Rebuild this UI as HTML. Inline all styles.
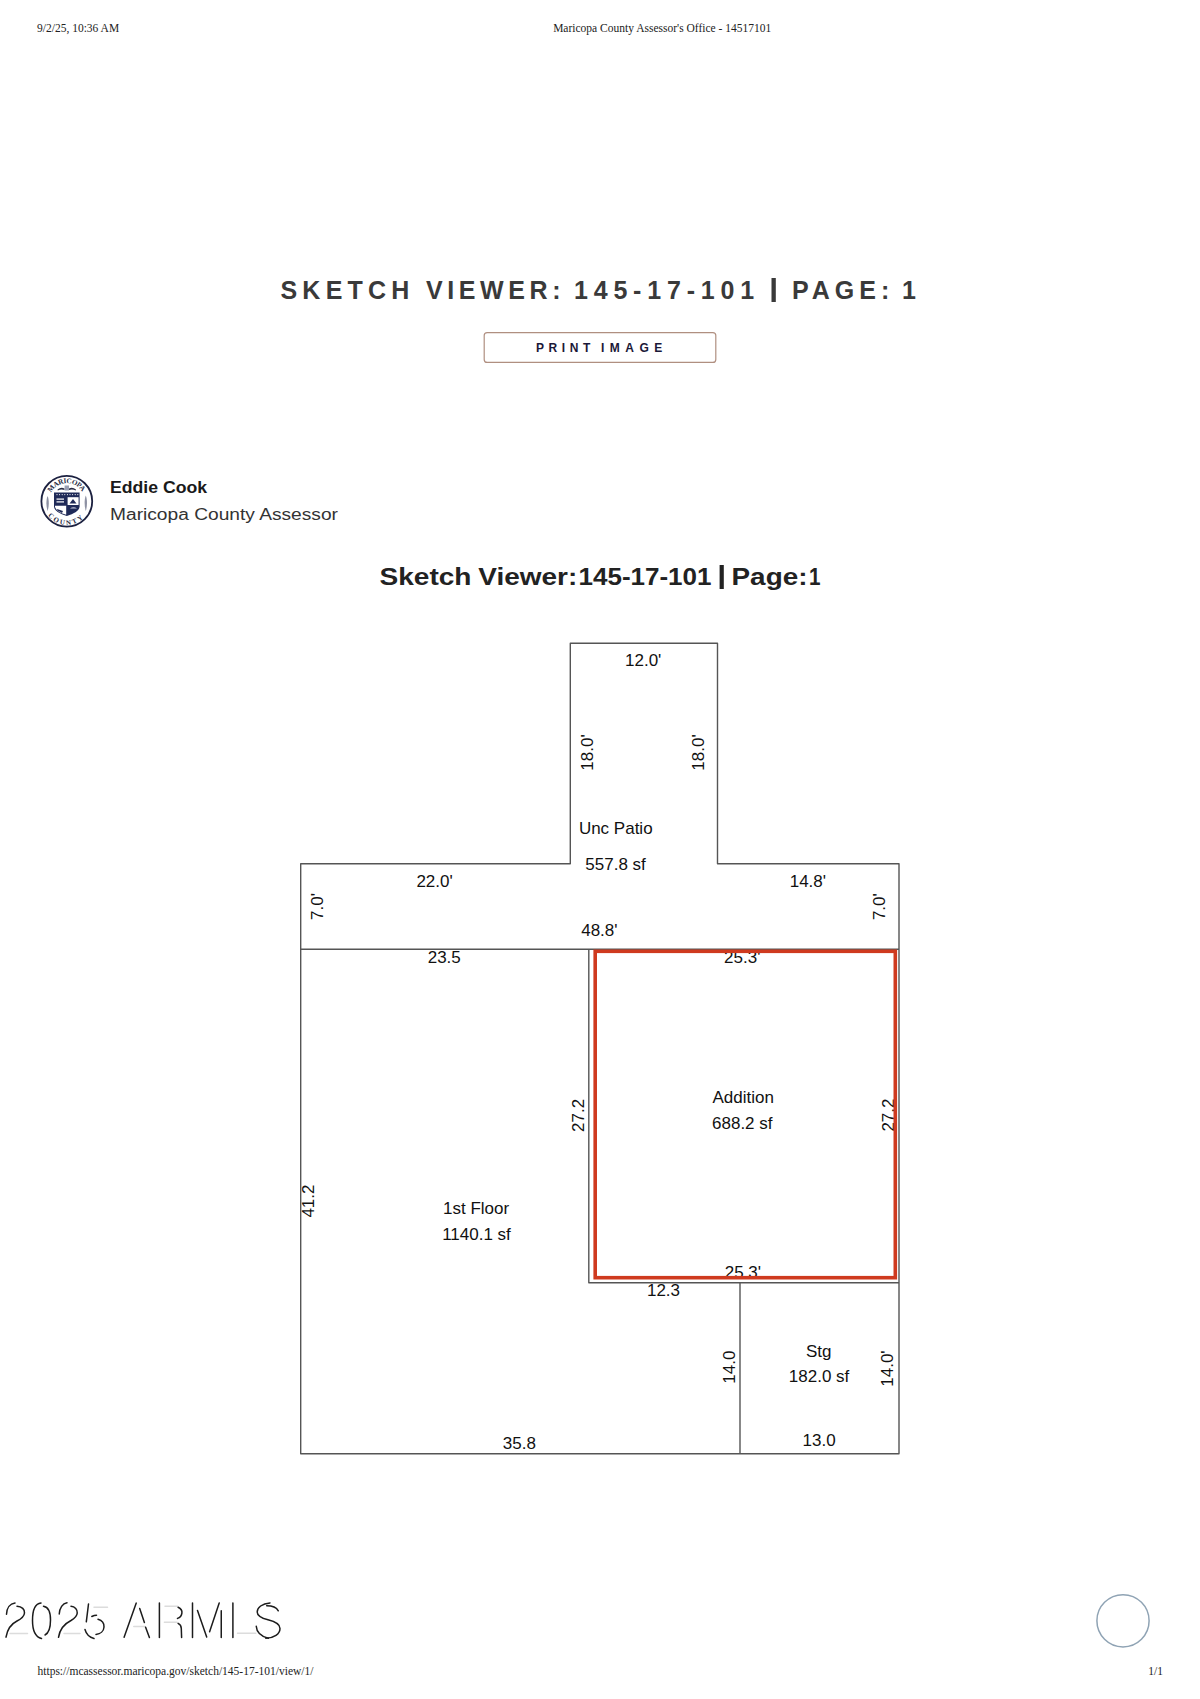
<!DOCTYPE html>
<html>
<head>
<meta charset="utf-8">
<style>
html,body{margin:0;padding:0;background:#fff;}
body{width:1200px;height:1699px;overflow:hidden;position:relative;}
svg{position:absolute;left:0;top:0;}
.serif{font-family:"Liberation Serif",serif;}
.sans{font-family:"Liberation Sans",sans-serif;}
</style>
</head>
<body>
<svg width="1200" height="1699" viewBox="0 0 1200 1699">
  <!-- header -->
  <text class="serif" x="37" y="31.7" font-size="11.5" fill="#222">9/2/25, 10:36 AM</text>
  <text class="serif" x="662.2" y="31.7" font-size="11.5" fill="#222" text-anchor="middle">Maricopa County Assessor's Office - 14517101</text>

  <!-- big title -->
  <g class="sans" font-size="25" font-weight="bold" fill="#3a3a3a" letter-spacing="5">
    <text x="280.5" y="298.7" letter-spacing="5.2">SKETCH</text>
    <text x="426" y="298.7" letter-spacing="4.6">VIEWER:</text>
    <text x="574" y="298.7" letter-spacing="5.8">145-17-101</text>
    <rect x="771.5" y="278" width="4.3" height="24" fill="#3a3a3a"/>
    <text x="792" y="298.7">PAGE:</text>
    <text x="901.9" y="298.7">1</text>
  </g>

  <!-- button -->
  <rect x="484.2" y="332.6" width="231.6" height="29.8" rx="3" ry="3" fill="#fff" stroke="#b08f80" stroke-width="1.2"/>
  <g class="sans" font-size="12" font-weight="bold" fill="#1b1838" letter-spacing="4.6">
    <text x="536" y="351.5">PRINT</text>
    <text x="601" y="351.5" letter-spacing="5.5">IMAGE</text>
  </g>

  <!-- seal -->
  <g id="seal">
    <defs>
      <path id="sealTop" d="M48.8 501.2 A18 18 0 0 1 84.76 499.94"/>
      <path id="sealBot" d="M43.3 500.79 A23.5 23.5 0 0 0 90.27 502.43"/>
    </defs>
    <circle cx="66.8" cy="501.2" r="25.4" fill="#fff" stroke="#1c2140" stroke-width="1.8"/>
    <text font-family="Liberation Serif, serif" font-size="7.2" font-weight="bold" fill="#2a2d45" letter-spacing="-0.3"><textPath href="#sealTop" startOffset="50%" text-anchor="middle">MARICOPA</textPath></text>
    <text font-family="Liberation Serif, serif" font-size="7" font-weight="bold" fill="#2a2d45" letter-spacing="1.9"><textPath href="#sealBot" startOffset="50%" text-anchor="middle">COUNTY</textPath></text>
    <!-- crest -->
    <path d="M57.5 489.5 Q61 486.5 64.5 488.5 L64.5 490 Q61 488.8 57.8 490.5 Z M76 489.5 Q72.5 486.5 69 488.5 L69 490 Q72.5 488.8 75.7 490.5 Z" fill="#2a2d45"/>
    <rect x="64.6" y="485.5" width="4.4" height="5" fill="#9aa0b4"/>
    <!-- side plants -->
    <path d="M47.6 496 C46 500 46 506 47.6 511 C49.2 506 49.2 500 47.6 496 Z" fill="#8d91a3"/>
    <path d="M85.8 495.5 C84.2 500 84.2 506 85.8 511 C87.4 506 87.4 500 85.8 495.5 Z" fill="#8d91a3"/>
    <!-- shield -->
    <path d="M54 492.4 H79.6 V506.5 Q79.3 512.5 66.8 516 Q54.3 512.5 54 506.5 Z" fill="#1f2a58"/>
    <g fill="#fff">
      <circle cx="57" cy="494.6" r="0.55"/><circle cx="59.6" cy="494.6" r="0.55"/><circle cx="62.2" cy="494.6" r="0.55"/><circle cx="64.8" cy="494.6" r="0.55"/><circle cx="67.4" cy="494.6" r="0.55"/><circle cx="70" cy="494.6" r="0.55"/><circle cx="72.6" cy="494.6" r="0.55"/><circle cx="75.2" cy="494.6" r="0.55"/><circle cx="77.8" cy="494.6" r="0.55"/>
      <path d="M67.6 497.2 H78.6 V505 H67.6 Z"/>
      <path d="M55 505.8 H66.2 V514.8 Q57 512.5 55 507 Z"/>
      <rect x="56.5" y="498.5" width="7.5" height="1.2"/>
      <rect x="56.5" y="501.3" width="7.5" height="1.2"/>
    </g>
    <g fill="#1f2a58">
      <path d="M69.5 503.5 L73 499 L76.5 503.5 Z"/>
      <path d="M57 509 L63 511 L62 513 L57.5 510.5 Z"/>
    </g>
    <path d="M70 508.5 Q73.5 506 77 508.5 Z" fill="#c8cce0"/>
  </g>

  <!-- name -->
  <text class="sans" x="110" y="492.7" font-size="16" font-weight="bold" fill="#1a1a1a" textLength="97" lengthAdjust="spacingAndGlyphs">Eddie Cook</text>
  <text class="sans" x="110" y="519.5" font-size="15.6" fill="#333" textLength="228" lengthAdjust="spacingAndGlyphs">Maricopa County Assessor</text>

  <!-- heading -->
  <g class="sans" font-size="24.5" font-weight="bold" fill="#222" lengthAdjust="spacingAndGlyphs">
    <text x="379.5" y="584.5" textLength="92" lengthAdjust="spacingAndGlyphs">Sketch</text>
    <text x="478.3" y="584.5" textLength="99" lengthAdjust="spacingAndGlyphs">Viewer:</text>
    <text x="578.5" y="584.5" textLength="133" lengthAdjust="spacingAndGlyphs">145-17-101</text>
    <rect x="719.6" y="565" width="4.2" height="24" fill="#222"/>
    <text x="731.5" y="584.5" textLength="76" lengthAdjust="spacingAndGlyphs">Page:</text>
    <text x="809" y="584.5" textLength="11.5" lengthAdjust="spacingAndGlyphs">1</text>
  </g>

  <!-- sketch lines -->
  <g fill="none" stroke="#555" stroke-width="1.4" stroke-linejoin="round">
    <path d="M300.7 863.7 H570.3 V643.2 H717.5 V863.7 H899 V1453.8 H300.7 Z"/>
    <path d="M300.7 949.3 H899"/>
    <path d="M588.8 949.3 V1282.7 H899"/>
    <path d="M740 1282.7 V1453.8"/>
  </g>

  <!-- sketch labels -->
  <g id="labels" class="sans" font-size="17" fill="#111">
    <text x="643.20" y="665.57" text-anchor="middle">12.0'</text>
    <text x="615.75" y="834.47" text-anchor="middle">Unc Patio</text>
    <text x="615.55" y="870.17" text-anchor="middle">557.8 sf</text>
    <text x="434.55" y="887.17" text-anchor="middle">22.0'</text>
    <text x="807.85" y="886.77" text-anchor="middle">14.8'</text>
    <text x="599.38" y="936.17" text-anchor="middle">48.8'</text>
    <text x="444.25" y="963.17" text-anchor="middle">23.5</text>
    <text x="742.25" y="962.67" text-anchor="middle">25.3'</text>
    <text x="743.20" y="1103.17" text-anchor="middle">Addition</text>
    <text x="742.27" y="1128.92" text-anchor="middle">688.2 sf</text>
    <text x="476.12" y="1214.17" text-anchor="middle">1st Floor</text>
    <text x="476.50" y="1240.07" text-anchor="middle">1140.1 sf</text>
    <text x="742.88" y="1277.92" text-anchor="middle">25.3'</text>
    <text x="663.50" y="1296.37" text-anchor="middle">12.3</text>
    <text x="818.80" y="1356.67" text-anchor="middle">Stg</text>
    <text x="819.05" y="1382.47" text-anchor="middle">182.0 sf</text>
    <text x="519.30" y="1449.07" text-anchor="middle">35.8</text>
    <text x="819.12" y="1446.27" text-anchor="middle">13.0</text>
    <text transform="translate(593.20 752.50) rotate(-90)" text-anchor="middle">18.0'</text>
    <text transform="translate(703.70 752.50) rotate(-90)" text-anchor="middle">18.0'</text>
    <text transform="translate(323.40 906.50) rotate(-90)" text-anchor="middle">7.0'</text>
    <text transform="translate(885.20 906.65) rotate(-90)" text-anchor="middle">7.0'</text>
    <text transform="translate(583.50 1115.45) rotate(-90)" text-anchor="middle">27.2</text>
    <text transform="translate(894.40 1115.05) rotate(-90)" text-anchor="middle">27.2</text>
    <text transform="translate(313.70 1201.05) rotate(-90)" text-anchor="middle">41.2</text>
    <text transform="translate(735.10 1367.15) rotate(-90)" text-anchor="middle">14.0</text>
    <text transform="translate(892.50 1368.55) rotate(-90)" text-anchor="middle">14.0'</text>
  </g>

  <rect x="595.2" y="951.3" width="300.1" height="326.4" fill="none" stroke="#cf3a1f" stroke-width="3.6"/>

  <!-- watermark placeholder -->
  <g id="wm" fill="none" stroke-linecap="round" stroke-linejoin="round">
    <g stroke="#dcdcdc" stroke-width="1.5">
      <path d="M10 1633.5 H27.5 M64 1633.5 H80 M94 1607.3 H107.5 M133.75 1626.6 H145 M165 1606.25 H177.5 M164.4 1622.2 H176.9 M237.5 1633.3 H255.8"/>
    </g>
    <g stroke="#1c1c1c" stroke-width="1.5">
      <path d="M6.5 1614.3 C6.8 1608 10 1603.5 15 1603"/>
      <path d="M17 1606.3 C22 1606.5 24.8 1609.5 24.5 1613 C24.2 1616.5 21 1619 17 1621 C11 1624 7.5 1628 6 1637.2"/>
      <path d="M41 1603 C35 1603.5 32.5 1611 32.5 1620.5 C32.5 1630 35.5 1637 41.5 1638.5"/>
      <path d="M43.5 1606.3 C48 1607 50.5 1612 50.5 1620 C50.5 1628 48 1633.5 45 1635"/>
      <path d="M59.25 1614 C59.5 1608 62.7 1603.5 67 1602.8"/>
      <path d="M71 1606.3 C75 1606.5 77.5 1609.5 77.25 1613 C77 1616 74.5 1618.5 71 1620.5 C65 1623.5 60 1628 58.5 1637.3"/>
      <path d="M88.5 1604 L86.3 1621.8"/>
      <path d="M91.8 1616.5 C93.5 1615.6 95 1615.2 96.5 1615.2"/>
      <path d="M98 1619.3 C102 1620.5 104.2 1623.5 104 1627 C103.8 1631 100.5 1634 96 1634.5"/>
      <path d="M85 1629.5 C86 1633.5 89.5 1637.5 94 1638.5"/>
      <path d="M136.25 1603.1 L124.1 1637.2 M139.7 1608.4 L144.4 1622.5 M145.6 1627.2 L149.4 1637.5"/>
      <path d="M159.4 1603.1 V1637.5"/>
      <path d="M178.1 1607.2 C181 1608.5 182.2 1611 181.9 1613.1 C181.6 1615.5 180 1617.5 177.5 1618.4"/>
      <path d="M178.1 1623.4 C180.5 1624.5 181.3 1626 181.3 1628.5 L181.6 1637.5"/>
      <path d="M192.5 1602.9 V1637.5 M197.5 1610.4 L206.7 1637.1 M219.2 1602.9 L209.6 1631.7 M221.25 1610.8 V1637.5"/>
      <path d="M232.9 1602.9 V1637.5"/>
      <path d="M270 1602.9 C262 1603.5 257.2 1607.5 257.2 1612 C257.2 1616 261 1618 268 1619.8 C275 1621.5 280 1624 280 1628.5 C280 1634 274 1638 265.8 1638.3"/>
      <path d="M266.7 1605.8 C272 1605.8 276.5 1607.5 278.3 1610.8"/>
      <path d="M256.25 1626.25 C256.5 1631 260 1636 268.3 1638.3"/>
    </g>
  </g>

  <!-- circle -->
  <circle cx="1123" cy="1620.8" r="26.1" fill="none" stroke="#8fa3b4" stroke-width="1.5"/>

  <!-- footer -->
  <text class="serif" x="37.5" y="1674.5" font-size="11.5" fill="#222">https://mcassessor.maricopa.gov/sketch/145-17-101/view/1/</text>
  <text class="serif" x="1163" y="1674.5" font-size="11.5" fill="#222" text-anchor="end">1/1</text>
</svg>
</body>
</html>
